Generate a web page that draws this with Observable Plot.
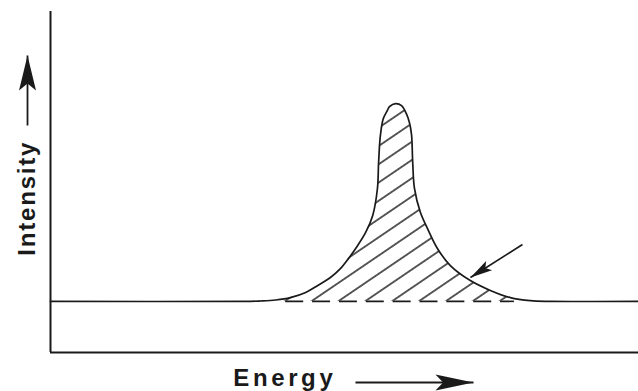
<!DOCTYPE html>
<html>
<head>
<meta charset="utf-8">
<script src="https://cdn.jsdelivr.net/npm/d3@7"></script>
<script src="https://cdn.jsdelivr.net/npm/@observablehq/plot@0.6"></script>
<style>
  html, body { margin: 0; padding: 0; background: #fff; }
  #chart svg { display: block; }
</style>
</head>
<body>
<div id="chart"></div>
<script>
// ---- data (arbitrary units) ----
const energy    = [0, 34.0, 35.7, 38.3, 40.8, 43.4, 45.4, 47.6, 49.3, 50.7, 51.9, 53.6, 54.8, 55.6, 55.8, 56.1, 56.6, 57.3, 57.65, 58.7, 59.7, 60.5, 61.05, 61.4, 61.6, 61.9, 62.9, 64.1, 65.8, 68.0, 71.4, 74.8, 78.2, 81.6, 85.0, 100];
const intensity = [15.0, 15.0, 15.1, 15.4, 16.1, 17.6, 19.6, 22.0, 24.6, 27.6, 30.5, 35.2, 40.2, 48.1, 55.7, 63.6, 68.6, 71.0, 72.1, 73.0, 72.4, 70.1, 67.4, 63.9, 55.7, 48.1, 41.1, 36.4, 30.5, 25.5, 21.1, 18.2, 16.1, 15.2, 15.0, 15.0];
const baseline = 15.0;
const dashRange = [40.0, 78.9];      // dashed baseline under the peak
const hatchStart = 44.56;            // energy where one hatch line meets the baseline
const peakRange = [34.0, 85.0];      // hatched region

const labelText = ["Intensity", "Energy"];
const labelX = [-2.7, 31.1];
const labelY = [28.4, -9.7];

const arrowX1 = [80.27, 51.87, -3.91];
const arrowY1 = [31.67, -8.8, 66.57];
const arrowX2 = [71.43, 71.94, -3.91];
const arrowY2 = [21.99, -8.8, 87.1];

const curve = energy.map((e, i) => ({energy: e, intensity: intensity[i]}));
const arrows = arrowX1.map((x1, i) => ({x1, y1: arrowY1[i], x2: arrowX2[i], y2: arrowY2[i]}));
const labels = labelText.map((t, i) => ({text: t, x: labelX[i], y: labelY[i]}));

const ink = "#1a1a1a";

function head(len, wid) {
  return (color, context) => {
    const doc = (context && context.document) || document;
    const ns = "http://www.w3.org/2000/svg";
    const m = doc.createElementNS(ns, "marker");
    m.setAttribute("viewBox", `${-len} ${-wid / 2} ${len} ${wid}`);
    m.setAttribute("markerWidth", len);
    m.setAttribute("markerHeight", wid);
    m.setAttribute("markerUnits", "userSpaceOnUse");
    m.setAttribute("refX", 0);
    m.setAttribute("refY", 0);
    m.setAttribute("orient", "auto");
    m.setAttribute("overflow", "visible");
    const p = doc.createElementNS(ns, "path");
    p.setAttribute("d", `M0,0L${-len},${-wid / 2}L${-len * 0.8},0L${-len},${wid / 2}Z`);
    p.setAttribute("fill", ink);
    p.setAttribute("stroke", "none");
    m.appendChild(p);
    return m;
  };
}

const font = "'Liberation Sans', Arial, Helvetica, sans-serif";

const plot = Plot.plot({
  width: 638,
  height: 391,
  marginLeft: 50,
  marginRight: 0,
  marginTop: 11,
  marginBottom: 39,
  style: {background: "#fff", overflow: "visible"},
  x: {domain: [0, 100], axis: null},
  y: {domain: [0, 100], axis: null},
  marks: [
    Plot.areaY(curve.filter(d => d.energy >= peakRange[0] && d.energy <= peakRange[1]), {
      x: "energy", y1: baseline, y2: "intensity", curve: "catmull-rom", fill: "url(#hatch)"
    }),
    Plot.ruleY([baseline], {x1: dashRange[0], x2: dashRange[1], stroke: ink, strokeWidth: 1.6, strokeDasharray: "18,8.86"}),
    Plot.line(curve, {x: "energy", y: "intensity", curve: "catmull-rom", stroke: ink, strokeWidth: 1.7}),
    Plot.ruleX([0], {stroke: ink, strokeWidth: 2}),
    Plot.ruleY([0], {stroke: ink, strokeWidth: 2}),
    Plot.link([arrows[0]], {x1: "x1", y1: "y1", x2: "x2", y2: "y2", stroke: ink, strokeWidth: 1.6, markerEnd: head(22, 11)}),
    Plot.link([arrows[1]], {x1: "x1", y1: "y1", x2: "x2", y2: "y2", stroke: ink, strokeWidth: 1.8, markerEnd: head(38, 16)}),
    Plot.link([arrows[2]], {x1: "x1", y1: "y1", x2: "x2", y2: "y2", stroke: ink, strokeWidth: 1.8, markerEnd: head(35, 17)}),
    Plot.text([labels[0]], {x: "x", y: "y", text: "text", rotate: -90,
      textAnchor: "start", lineAnchor: "bottom", fontFamily: font, fontWeight: "bold", fontSize: 24, fill: ink}),
    Plot.text([labels[1]], {x: "x", y: "y", text: "text",
      textAnchor: "start", lineAnchor: "bottom", fontFamily: font, fontWeight: "bold", fontSize: 24, fill: ink})
  ]
});

// hatch pattern anchored through the library's scales
const ox = plot.scale("x").apply(hatchStart);
const oy = plot.scale("y").apply(baseline);
const svg = d3.select(plot);
const defs = svg.insert("defs", ":first-child");
const pat = defs.append("pattern")
  .attr("id", "hatch")
  .attr("patternUnits", "userSpaceOnUse")
  .attr("width", 300)
  .attr("height", 15.1)
  .attr("patternTransform", `translate(${ox},${oy}) rotate(-34.2)`);
pat.append("path")
  .attr("d", "M-1,0H301M-1,15.1H301")
  .attr("stroke", ink)
  .attr("stroke-width", 1.6)
  .attr("fill", "none");

svg.selectAll("text").each(function () {
  const t = this.textContent;
  if (t === labelText[0]) d3.select(this).style("letter-spacing", "1.8px");
  if (t === labelText[1]) d3.select(this).style("letter-spacing", "3.6px");
});

document.getElementById("chart").appendChild(plot);
</script>
</body>
</html>
